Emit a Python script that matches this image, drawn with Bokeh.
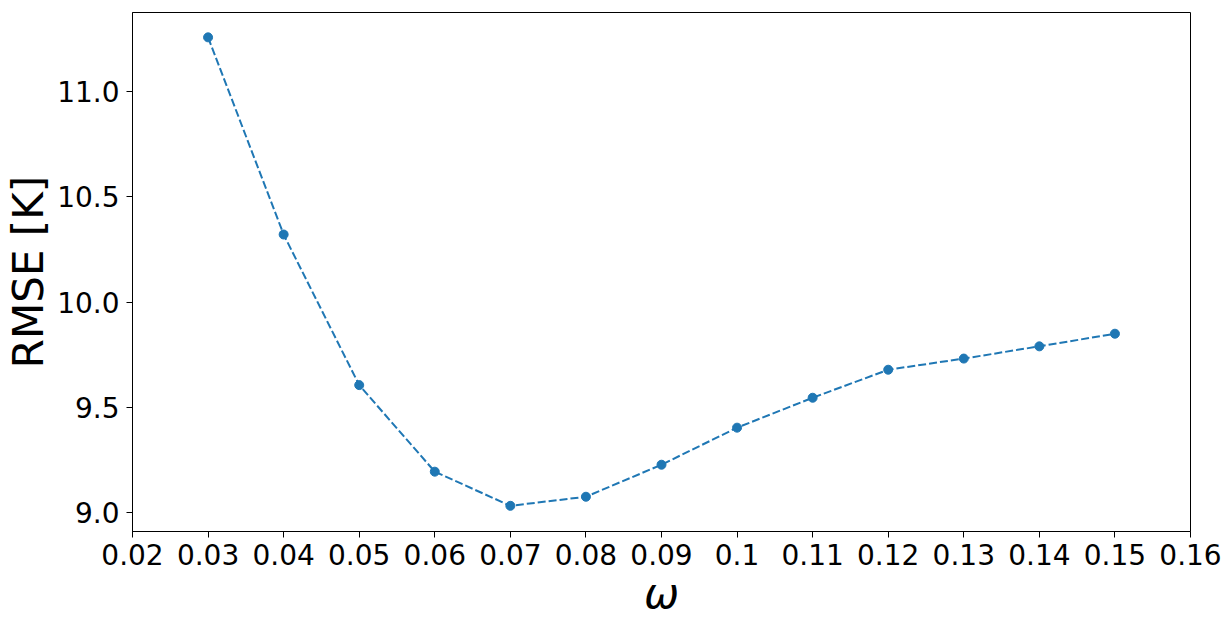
from bokeh.plotting import figure
from bokeh.models import FixedTicker, PrintfTickFormatter, Range1d
from bokeh.embed import file_html
from bokeh.resources import INLINE

omega = [0.03, 0.04, 0.05, 0.06, 0.07, 0.08, 0.09, 0.10, 0.11, 0.12, 0.13, 0.14, 0.15]
rmse = [11.257, 10.321, 9.606, 9.195, 9.033, 9.076, 9.228, 9.404, 9.546, 9.679, 9.732, 9.790, 9.850]

x_ticks = [0.02, 0.03, 0.04, 0.05, 0.06, 0.07, 0.08, 0.09, 0.10, 0.11, 0.12, 0.13, 0.14, 0.15, 0.16]
x_tick_labels = ["0.02", "0.03", "0.04", "0.05", "0.06", "0.07", "0.08", "0.09", "0.1",
                 "0.11", "0.12", "0.13", "0.14", "0.15", "0.16"]
y_ticks = [9.0, 9.5, 10.0, 10.5, 11.0]

FONT = "DejaVu Sans"
COLOR = "#1f77b4"

p = figure(output_backend="svg", toolbar_location=None,
           frame_width=1058, frame_height=519,
           min_border_left=132, min_border_top=12, min_border_right=33, min_border_bottom=80,
           x_range=Range1d(0.02, 0.16), y_range=Range1d(8.911, 11.375))

p.line(omega, rmse, color=COLOR, line_width=2, line_dash="8 3")
p.scatter(omega, rmse, size=9, color=COLOR)

p.grid.visible = False
p.outline_line_color = "black"
p.outline_line_width = 1
p.background_fill_color = "white"
p.border_fill_color = "white"

for ax in (p.xaxis[0], p.yaxis[0]):
    ax.major_label_text_font = FONT
    ax.major_label_text_font_size = "28px"
    ax.major_label_text_color = "black"
    ax.axis_label_text_font = FONT
    ax.axis_label_text_font_size = "42px"
    ax.axis_label_text_font_style = "normal"
    ax.axis_label_text_color = "black"
    ax.minor_tick_line_color = None
    ax.major_tick_out = 6
    ax.major_tick_in = 0
    ax.axis_line_color = "black"
    ax.major_tick_line_color = "black"

p.xaxis[0].ticker = FixedTicker(ticks=x_ticks)
p.xaxis[0].major_label_overrides = {t: l for t, l in zip(x_ticks, x_tick_labels)}
p.xaxis[0].major_label_standoff = 6
p.xaxis[0].axis_label = "ω"
p.xaxis[0].axis_label_text_font_style = "italic"
p.xaxis[0].axis_label_standoff = 1

p.yaxis[0].ticker = FixedTicker(ticks=y_ticks)
p.yaxis[0].formatter = PrintfTickFormatter(format="%.1f")
p.yaxis[0].major_label_standoff = 7
p.yaxis[0].axis_label = "RMSE [K]"
p.yaxis[0].axis_label_standoff = 1

open("out.html", "w").write(file_html(p, INLINE))
